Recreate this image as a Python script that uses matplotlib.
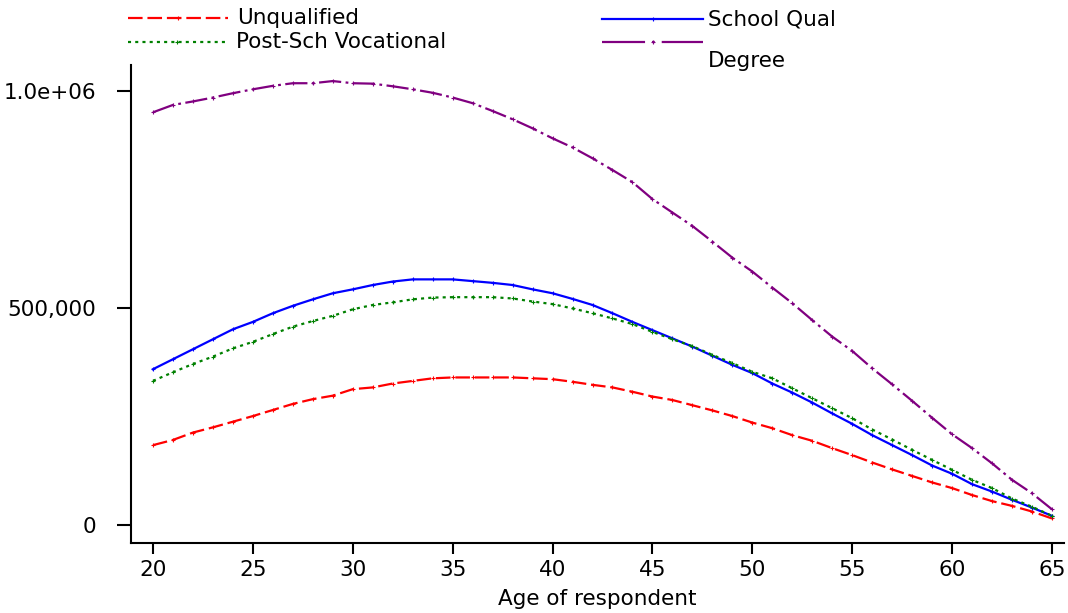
"""Lifetime earnings profile by highest qualification."""

import matplotlib

matplotlib.use("Agg")
import matplotlib.pyplot as plt
from matplotlib.lines import Line2D
from matplotlib.ticker import FixedLocator, FixedFormatter

W, H = 1068, 613

ages = list(range(20, 66))

# predicted earnings, one value per year of age 20..65
unqualified = [
    184, 196, 213, 225, 238, 251, 265, 279, 290, 298,
    313, 317, 326, 332, 338, 340, 340, 340, 340, 338,
    336, 330, 323, 317, 307, 296, 288, 276, 264, 251,
    236, 223, 207, 194, 177, 161, 144, 128, 113, 98,
    85, 69, 55, 44, 31, 15,
]
school_qual = [
    359, 382, 405, 428, 451, 468, 488, 505, 520, 534,
    543, 553, 561, 566, 566, 566, 562, 558, 553, 543,
    534, 521, 507, 488, 468, 449, 430, 411, 390, 369,
    350, 326, 305, 282, 257, 233, 207, 184, 161, 137,
    118, 94, 77, 58, 40, 21,
]
post_sch_voc = [
    332, 352, 371, 388, 407, 422, 440, 457, 470, 482,
    497, 507, 513, 520, 524, 525, 525, 525, 522, 515,
    509, 499, 488, 476, 463, 445, 428, 412, 392, 373,
    353, 338, 315, 292, 269, 246, 220, 197, 173, 150,
    127, 104, 85, 61, 42, 21,
]
degree = [
    951, 968, 976, 985, 995, 1004, 1012, 1018, 1018, 1023,
    1018, 1017, 1011, 1004, 996, 985, 972, 954, 935, 914,
    891, 870, 845, 818, 790, 751, 720, 689, 653, 616,
    584, 547, 511, 472, 434, 401, 361, 324, 286, 247,
    209, 177, 142, 104, 73, 36,
]

x_ticks = [20, 25, 30, 35, 40, 45, 50, 55, 60, 65]
y_ticks = [0, 500000, 1000000]
y_tick_labels = ["0", "500,000", "1.0e+06"]

series = [
    ("Unqualified", unqualified, "#FF0000", (0, (10.5, 3.5))),
    ("School Qual", school_qual, "#0000FF", "-"),
    ("Post-Sch Vocational", post_sch_voc, "#008000", (0, (2.2, 3.0))),
    ("Degree", degree, "#800080", (0, (16, 3.2, 2, 3.2))),
]

plt.rcParams["font.family"] = ["DejaVu Sans"]
plt.rcParams["lines.scale_dashes"] = False
FS = 15.5
LW = 1.6

fig = plt.figure(figsize=(W / 100, H / 100), dpi=100)
ax = fig.add_axes([131 / W, 70 / H, (1064 - 131) / W, 478 / H])

for label, vals, color, ls in series:
    ax.plot(
        ages,
        [v * 1000 for v in vals],
        color=color,
        linestyle=ls,
        linewidth=LW,
        marker="+",
        markersize=3,
        markeredgewidth=0.8,
        dash_capstyle="butt",
    )

ax.set_xlim(18.9, 65.6)
ax.set_ylim(-41500, 1060000)

ax.xaxis.set_major_locator(FixedLocator(x_ticks))
ax.yaxis.set_major_locator(FixedLocator(y_ticks))
ax.yaxis.set_major_formatter(FixedFormatter(y_tick_labels))

for side in ("top", "right"):
    ax.spines[side].set_visible(False)
for side in ("left", "bottom"):
    ax.spines[side].set_linewidth(1.5)

ax.tick_params(axis="both", direction="out", width=1.5,
               labelsize=FS, colors="black")
ax.tick_params(axis="y", length=10, pad=15)
ax.tick_params(axis="x", length=8, pad=4)
ax.set_xlabel("Age of respondent", fontsize=FS, labelpad=7)


def fig_xy(px, py):
    return px / W, 1 - py / H


# legend keys laid out in two columns, Degree label sits one row lower
legend_keys = [
    ("Unqualified", "#FF0000", (0, (10.5, 3.5)), 128, 228, 18, 237, 18),
    ("Post-Sch Vocational", "#008000", (0, (2.2, 3.0)), 128, 226, 42, 236, 42),
    ("School Qual", "#0000FF", "-", 602, 703, 19, 708, 20),
    ("Degree", "#800080", (0, (31, 5, 2, 5)), 602, 703, 41.5, 708, 61),
]
for text, color, ls, x0, x1, ly, tx, ty in legend_keys:
    (fx0, fy), (fx1, _) = fig_xy(x0, ly), fig_xy(x1, ly)
    fig.add_artist(Line2D(
        [fx0, (fx0 + fx1) / 2, fx1], [fy, fy, fy],
        transform=fig.transFigure, color=color, linestyle=ls,
        linewidth=LW, marker="+", markersize=3, markeredgewidth=0.8,
        markevery=[1], dash_capstyle="butt",
    ))
    tfx, tfy = fig_xy(tx, ty)
    fig.text(tfx, tfy, text, fontsize=FS, ha="left", va="center")

fig.savefig("out.png", dpi=100)
